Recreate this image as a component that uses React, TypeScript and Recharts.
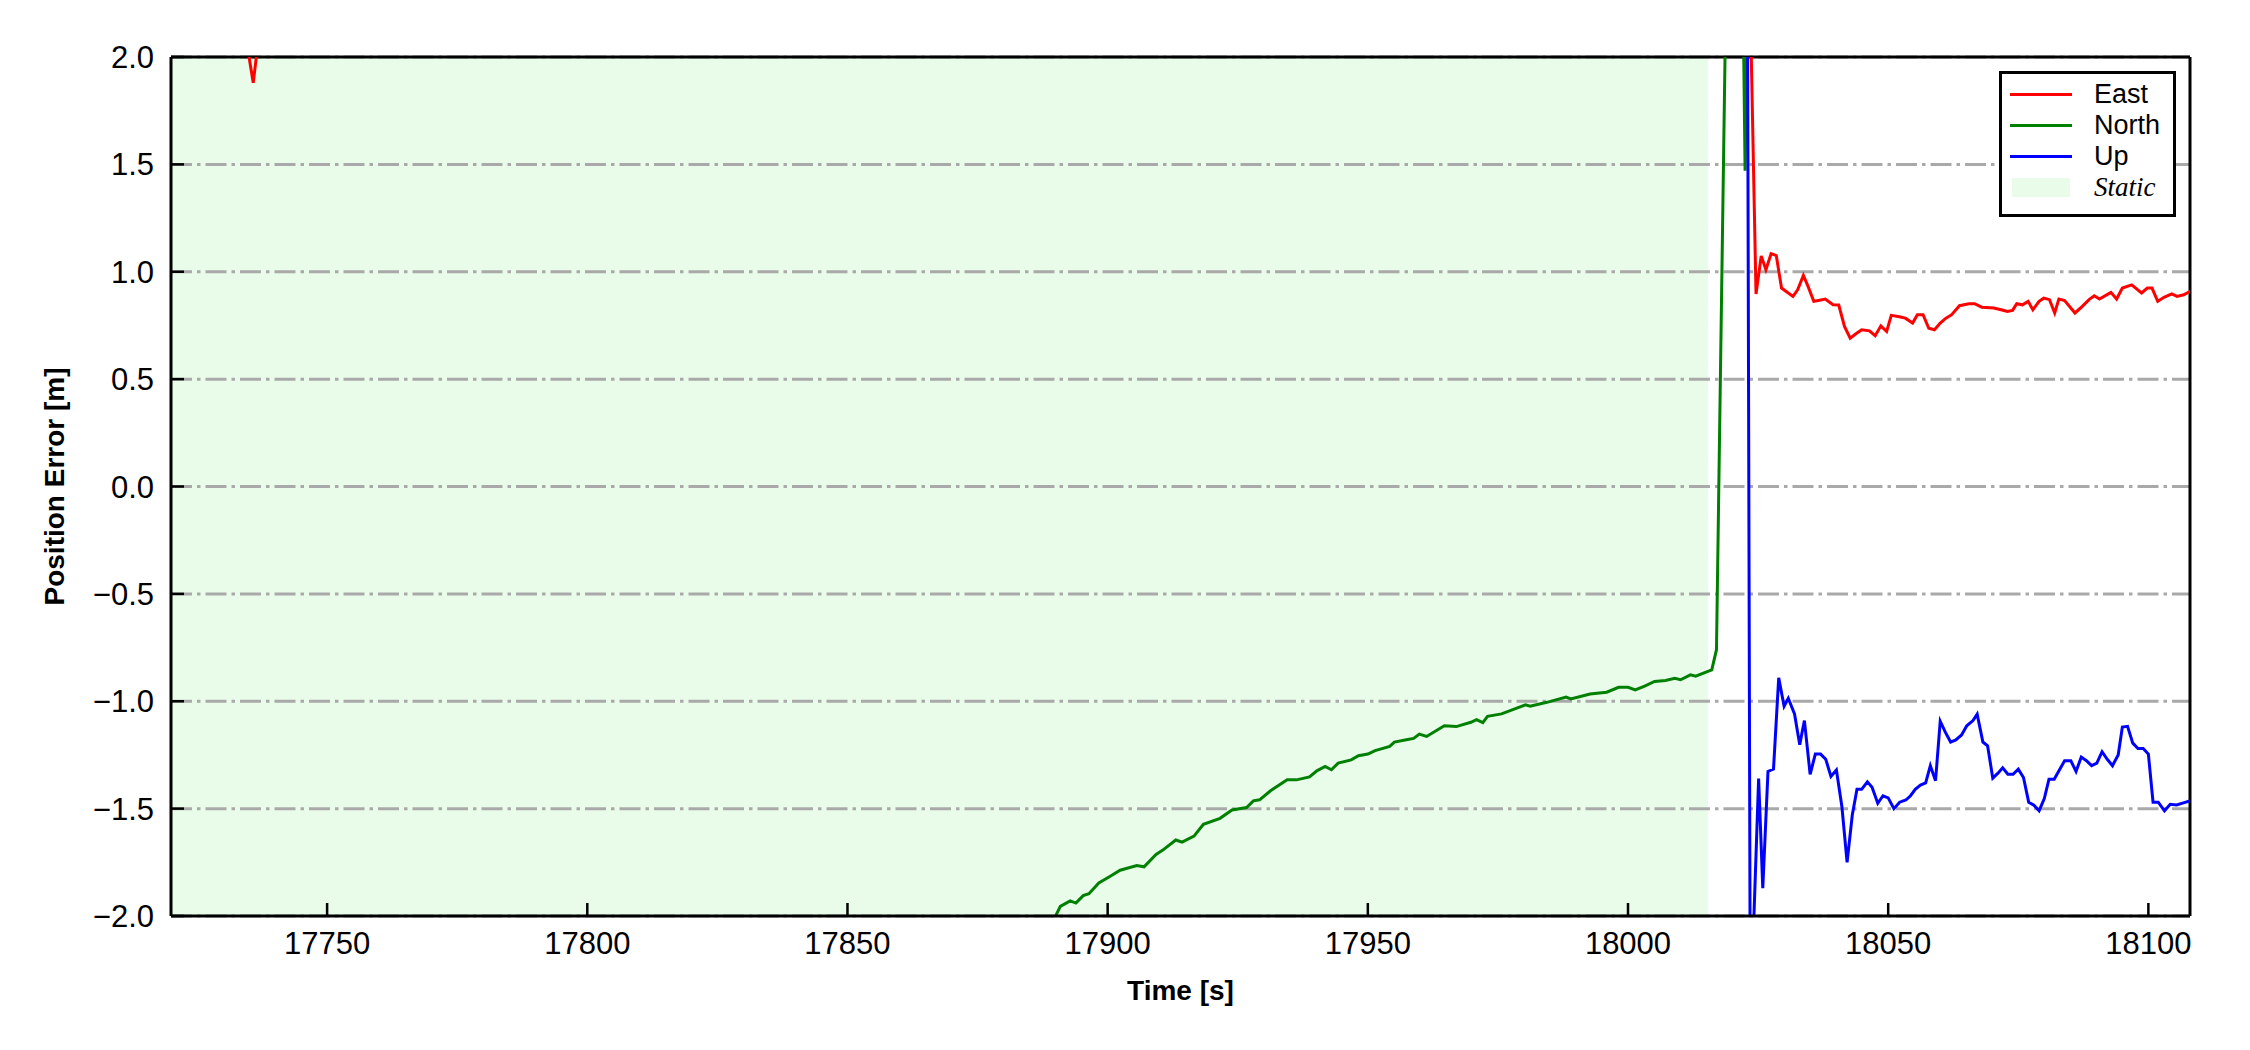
import React from 'react';
import {
  LineChart,
  Line,
  XAxis,
  YAxis,
  CartesianGrid,
  ReferenceArea,
  ReferenceLine,
  Legend,
} from 'recharts';

// axis setup
const X_TICKS = [17750, 17800, 17850, 17900, 17950, 18000, 18050, 18100];
const Y_TICKS = [-2, -1.5, -1, -0.5, 0, 0.5, 1, 1.5, 2];
const X_DOMAIN: [number, number] = [17720, 18108];
const Y_DOMAIN: [number, number] = [-2, 2];
const STATIC_PERIOD: [number, number] = [17720, 18015.4];

// [time s, error m]
const EAST: [number, number][] = [
  [17720, 2.45], [17727, 2.31], [17731, 2.22], [17734.8, 2.03], [17735.8, 1.88], [17736.8, 2.08],
  [17742, 2.27], [17760, 2.4], [17790, 2.55], [17830, 2.7], [17880, 2.85], [17930, 2.9],
  [17980, 2.8], [18010, 2.75], [18020, 2.7], [18023.2, 2.6],
  [18024.6, 0.896], [18025.6, 1.074], [18026.5, 1.009], [18027.5, 1.084], [18028.5, 1.075],
  [18029.5, 0.924], [18031.7, 0.885], [18032.6, 0.916], [18033.7, 0.983], [18034.6, 0.932],
  [18035.7, 0.862], [18036.8, 0.867], [18037.9, 0.873], [18039.4, 0.846], [18040.5, 0.845],
  [18041.6, 0.745], [18042.7, 0.691], [18043.8, 0.711], [18044.9, 0.73], [18046.4, 0.725],
  [18047.5, 0.702], [18048.6, 0.748], [18049.7, 0.722], [18050.6, 0.797], [18051.9, 0.792],
  [18053.3, 0.784], [18054.7, 0.761], [18055.6, 0.8], [18056.7, 0.8], [18057.8, 0.737],
  [18058.9, 0.73], [18060.0, 0.761], [18061.1, 0.784], [18062.2, 0.8], [18063.7, 0.842],
  [18065.5, 0.851], [18066.6, 0.851], [18068.0, 0.835], [18070.3, 0.831], [18071.7, 0.823],
  [18072.9, 0.815], [18073.9, 0.82], [18074.7, 0.851], [18075.8, 0.846], [18076.9, 0.862],
  [18077.8, 0.823], [18079.0, 0.862], [18079.9, 0.877], [18081.0, 0.87], [18082.0, 0.808],
  [18082.8, 0.873], [18083.9, 0.866], [18085.9, 0.808], [18087.3, 0.839], [18088.6, 0.87],
  [18089.6, 0.888], [18090.6, 0.873], [18092.8, 0.904], [18093.9, 0.873], [18095.0, 0.924],
  [18096.8, 0.939], [18098.7, 0.901], [18099.8, 0.924], [18100.7, 0.924], [18101.8, 0.862],
  [18103.1, 0.882], [18104.5, 0.897], [18105.5, 0.885], [18106.8, 0.893], [18108.5, 0.915],
];

const NORTH: [number, number][] = [
  [17720, -3.4], [17760, -3.1], [17800, -2.8], [17840, -2.5], [17870, -2.25], [17885, -2.1],
  [17889, -2.05],
  [17890.9, -1.955], [17892.8, -1.93], [17893.9, -1.94], [17895.3, -1.905], [17896.4, -1.896],
  [17898.3, -1.846], [17900.5, -1.815], [17902.4, -1.787], [17905.6, -1.765], [17907.0, -1.771],
  [17909.3, -1.713], [17910.6, -1.693], [17913.1, -1.646], [17914.3, -1.656], [17916.6, -1.628],
  [17918.4, -1.573], [17921.6, -1.545], [17923.9, -1.506], [17926.7, -1.495], [17928.0, -1.464],
  [17929.2, -1.459], [17931.3, -1.417], [17934.5, -1.366], [17936.3, -1.366], [17938.8, -1.352],
  [17940.2, -1.324], [17941.8, -1.304], [17943.0, -1.319], [17944.3, -1.288], [17946.8, -1.273],
  [17948.2, -1.254], [17950.0, -1.246], [17951.4, -1.23], [17954.2, -1.21], [17955.1, -1.19],
  [17957.4, -1.179], [17958.8, -1.173], [17959.9, -1.153], [17961.3, -1.164], [17964.7, -1.114],
  [17967.0, -1.118], [17969.8, -1.098], [17970.9, -1.086], [17972.1, -1.1], [17973.0, -1.07],
  [17975.7, -1.059], [17978.5, -1.033], [17980.3, -1.017], [17981.2, -1.023], [17984.4, -1.005],
  [17988.1, -0.981], [17989.0, -0.989], [17992.7, -0.966], [17995.9, -0.958], [17998.2, -0.935],
  [18000.0, -0.935], [18001.4, -0.947], [18003.2, -0.93], [18005.1, -0.908], [18007.2, -0.903],
  [18009.0, -0.893], [18010.1, -0.9], [18012.0, -0.877], [18013.0, -0.883], [18016.1, -0.854],
  [18017.0, -0.76], [18019.0, 2.6], [18020.5, 2.7], [18022.0, 2.5], [18022.5, 1.47],
  [18023.0, 2.5], [18030, 2.8], [18060, 3.0], [18108.5, 3.1],
];

const UP: [number, number][] = [
  [17720, 3.2], [17780, 3.4], [17850, 3.3], [17920, 3.1], [17980, 2.95], [18022.9, 2.8],
  [18023.5, -2.5], [18025.1, -1.36], [18025.9, -1.87], [18026.9, -1.327], [18027.96, -1.316],
  [18028.96, -0.891], [18030.0, -1.023], [18030.8, -0.986], [18032.0, -1.059], [18033.0, -1.202],
  [18033.9, -1.09], [18035.0, -1.34], [18036.0, -1.246], [18037.0, -1.246], [18038.0, -1.27],
  [18039.0, -1.35], [18040.05, -1.32], [18041.1, -1.49], [18042.1, -1.75], [18043.1, -1.53],
  [18044.0, -1.41], [18044.9, -1.41], [18046.0, -1.375], [18046.9, -1.4], [18048.0, -1.475],
  [18049.0, -1.44], [18050.0, -1.45], [18051.1, -1.5], [18052.2, -1.47], [18053.4, -1.46],
  [18054.3, -1.44], [18055.2, -1.41], [18056.2, -1.39], [18057.2, -1.38], [18058.1, -1.3],
  [18059.1, -1.37], [18060.0, -1.093], [18061.0, -1.145], [18062.0, -1.19], [18063.0, -1.18],
  [18064.1, -1.157], [18065.1, -1.114], [18066.3, -1.09], [18067.1, -1.06], [18068.2, -1.19],
  [18069.1, -1.207], [18070.1, -1.358], [18071.1, -1.335], [18072.0, -1.31], [18073.0, -1.34],
  [18074.0, -1.34], [18075.0, -1.316], [18076.0, -1.355], [18077.0, -1.47], [18078.0, -1.484],
  [18079.0, -1.51], [18080.0, -1.453], [18080.9, -1.363], [18081.9, -1.363], [18082.9, -1.32],
  [18083.9, -1.277], [18085.1, -1.277], [18086.1, -1.327], [18087.1, -1.26], [18088.1, -1.277],
  [18089.1, -1.3], [18090.1, -1.288], [18091.1, -1.235], [18092.1, -1.27], [18093.1, -1.3],
  [18094.2, -1.25], [18095.0, -1.12], [18096.0, -1.117], [18097.0, -1.195], [18098.0, -1.22],
  [18099.0, -1.22], [18100.0, -1.246], [18100.9, -1.47], [18101.9, -1.47], [18103.1, -1.51],
  [18104.2, -1.48], [18105.4, -1.483], [18106.9, -1.472], [18108.5, -1.46],
];

const SERIES = [
  { name: 'East', color: '#ff0000', points: EAST },
  { name: 'North', color: '#008000', points: NORTH },
  { name: 'Up', color: '#0000ff', points: UP },
];

const FONT = '"Liberation Sans", Arial, sans-serif';
const STATIC_FILL = '#90ee90';

const toRows = (pts: [number, number][]) => pts.map(([t, v]) => ({ t, v }));

const fmtY = (v: number) => (v < 0 ? '\u2212' + Math.abs(v).toFixed(1) : v.toFixed(1));

const YLabel = (props: any) => {
  const vb = props.viewBox;
  const x = vb.x + 64;
  const y = vb.y + vb.height / 2;
  return (
    <text
      x={x}
      y={y}
      transform={`rotate(-90, ${x}, ${y})`}
      textAnchor="middle"
      fontFamily={FONT}
      fontWeight={700}
      fontSize={28}
      fill="#000"
    >
      Position Error [m]
    </text>
  );
};

const XLabel = (props: any) => {
  const vb = props.viewBox;
  return (
    <text
      x={vb.x + vb.width / 2}
      y={vb.y + 84}
      textAnchor="middle"
      fontFamily={FONT}
      fontWeight={700}
      fontSize={28}
      fill="#000"
    >
      Time [s]
    </text>
  );
};

const LegendBox = () => {
  const rowH = 31;
  return (
    <div
      style={{
        position: 'relative',
        width: 177,
        height: 146,
        boxSizing: 'border-box',
        border: '3px solid #000',
        background: '#fff',
      }}
    >
      {SERIES.map((s, i) => (
        <React.Fragment key={s.name}>
          <div
            style={{
              position: 'absolute',
              left: 8,
              top: 20 + i * rowH - 1.5,
              width: 62,
              height: 3,
              background: s.color,
            }}
          />
          <div
            style={{
              position: 'absolute',
              left: 92,
              top: 20 + i * rowH - 16,
              height: 32,
              lineHeight: '32px',
              fontFamily: FONT,
              fontSize: 27,
              color: '#000',
            }}
          >
            {s.name}
          </div>
        </React.Fragment>
      ))}
      <div
        style={{
          position: 'absolute',
          left: 10,
          top: 20 + 3 * rowH - 9,
          width: 58,
          height: 19,
          background: STATIC_FILL,
          opacity: 0.2,
        }}
      />
      <div
        style={{
          position: 'absolute',
          left: 92,
          top: 20 + 3 * rowH - 16,
          height: 32,
          lineHeight: '32px',
          fontFamily: '"Liberation Serif", "Times New Roman", serif',
          fontStyle: 'italic',
          fontSize: 27,
          color: '#000',
        }}
      >
        Static
      </div>
    </div>
  );
};

export default function App() {
  return (
    <div style={{ position: 'absolute', left: 0, top: 0, width: 2250, height: 1050, background: '#fff' }}>
      <LineChart width={2250} height={1050} margin={{ top: 57, right: 60, bottom: 0, left: 0 }}>
        <ReferenceArea
          x1={STATIC_PERIOD[0]}
          x2={STATIC_PERIOD[1]}
          y1={Y_DOMAIN[0]}
          y2={Y_DOMAIN[1]}
          fill={STATIC_FILL}
          fillOpacity={0.2}
          stroke="none"
          ifOverflow="hidden"
          zIndex={-200}
        />
        <CartesianGrid
          vertical={false}
          stroke="#a9a9a9"
          strokeWidth={3}
          strokeDasharray="21 5 3.5 5"
        />
        <XAxis
          dataKey="t"
          type="number"
          domain={X_DOMAIN}
          ticks={X_TICKS}
          allowDataOverflow
          interval={0}
          height={134}
          axisLine={{ stroke: '#000', strokeWidth: 3 }}
          tickLine={{ stroke: '#000', strokeWidth: 2.5 }}
          tickSize={-13}
          tickMargin={29}
          tick={{ fill: '#000', fontSize: 31, fontFamily: FONT }}
          label={<XLabel />}
        />
        <YAxis
          type="number"
          domain={Y_DOMAIN}
          ticks={Y_TICKS}
          allowDataOverflow
          interval={0}
          width={171}
          axisLine={{ stroke: '#000', strokeWidth: 3 }}
          tickLine={{ stroke: '#000', strokeWidth: 2.5 }}
          tickSize={-13}
          tickMargin={30}
          tickFormatter={fmtY}
          tick={{ fill: '#000', fontSize: 31, fontFamily: FONT }}
          label={<YLabel />}
        />
        <ReferenceLine y={Y_DOMAIN[1]} stroke="#000" strokeWidth={3} />
        <ReferenceLine x={X_DOMAIN[1]} stroke="#000" strokeWidth={3} />
        {SERIES.map((s) => (
          <Line
            key={s.name}
            data={toRows(s.points)}
            dataKey="v"
            name={s.name}
            type="linear"
            stroke={s.color}
            strokeWidth={3}
            dot={false}
            activeDot={false}
            isAnimationActive={false}
          />
        ))}
        <Legend
          layout="horizontal"
          verticalAlign="middle"
          align="center"
          content={<LegendBox />}
          wrapperStyle={{ position: 'absolute', top: 71, left: 1999, width: 177, height: 146, margin: 0 }}
        />
      </LineChart>
    </div>
  );
}
